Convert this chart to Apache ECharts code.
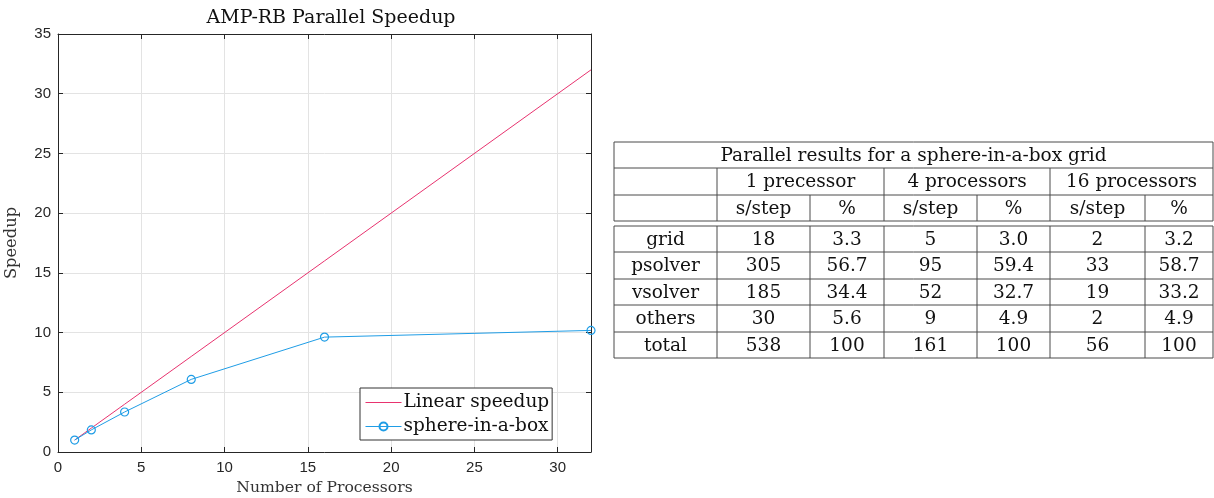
<!DOCTYPE html>
<html>
<head>
<meta charset="utf-8">
<script src="https://cdn.jsdelivr.net/npm/echarts@6/dist/echarts.min.js"></script>
<style>
  html, body { margin: 0; padding: 0; background: #fff; }
  #main { width: 1214px; height: 498px; }
</style>
</head>
<body>
<div id="main"></div>
<script>
// plot data
var procs = [1, 2, 4, 8, 16, 32];
var linear = [1, 2, 4, 8, 16, 32];
var sphere = [1, 1.85, 3.35, 6.08, 9.62, 10.18];

// table data
var tableTitle = 'Parallel results for a sphere-in-a-box grid';
var procHeads = ['1 precessor', '4 processors', '16 processors'];
var subHeads = ['s/step', '%'];
var rowNames = ['grid', 'psolver', 'vsolver', 'others', 'total'];
var secs1 = ['18', '305', '185', '30', '538'];
var pct1 = ['3.3', '56.7', '34.4', '5.6', '100'];
var secs4 = ['5', '95', '52', '9', '161'];
var pct4 = ['3.0', '59.4', '32.7', '4.9', '100'];
var secs16 = ['2', '33', '19', '2', '56'];
var pct16 = ['3.2', '58.7', '33.2', '4.9', '100'];

var serif = 'DejaVu Serif';
var sans = 'Liberation Sans';
var axisCol = '#262626';

// table layout
var colX = [614, 717, 810, 884, 977, 1050, 1145, 1213];
var headY = [142, 168, 195, 221];
var bodyY = [226, 252, 279, 305, 332, 358];
var lineCol = '#4a4a4a';

function hline(x1, x2, y) {
	return { type: 'line', shape: { x1: x1, y1: y, x2: x2, y2: y }, style: { stroke: lineCol, lineWidth: 1 } };
}
function vline(x, y1, y2) {
	return { type: 'line', shape: { x1: x, y1: y1, x2: x, y2: y2 }, style: { stroke: lineCol, lineWidth: 1 } };
}
function cell(txt, x, y) {
	return {
		type: 'text', x: x, y: y,
		style: { text: txt, font: '18.5px "' + serif + '"', fill: '#111', align: 'center', verticalAlign: 'middle' }
	};
}

function buildTable() {
	var g = [];
	var L = colX[0], R = colX[colX.length - 1];
	// horizontal rules
	headY.forEach(function (y) { g.push(hline(L, R, y)); });
	bodyY.forEach(function (y) { g.push(hline(L, R, y)); });
	// header verticals
	g.push(vline(L, headY[0], headY[3]));
	g.push(vline(R, headY[0], headY[3]));
	[1, 3, 5].forEach(function (c) { g.push(vline(colX[c], headY[1], headY[3])); });
	[2, 4, 6].forEach(function (c) { g.push(vline(colX[c], headY[2], headY[3])); });
	// body verticals
	colX.forEach(function (x) { g.push(vline(x, bodyY[0], bodyY[bodyY.length - 1])); });

	// header text
	g.push(cell(tableTitle, (L + R) / 2, (headY[0] + headY[1]) / 2 + 1));
	procHeads.forEach(function (h, i) {
		g.push(cell(h, (colX[1 + 2 * i] + colX[3 + 2 * i]) / 2, (headY[1] + headY[2]) / 2 + 1));
		subHeads.forEach(function (s, j) {
			var c = 1 + 2 * i + j;
			g.push(cell(s, (colX[c] + colX[c + 1]) / 2, (headY[2] + headY[3]) / 2 + 1));
		});
	});
	// body text
	var cols = [rowNames, secs1, pct1, secs4, pct4, secs16, pct16];
	cols.forEach(function (arr, c) {
		arr.forEach(function (v, r) {
			g.push(cell(v, (colX[c] + colX[c + 1]) / 2, (bodyY[r] + bodyY[r + 1]) / 2 + 1));
		});
	});
	return g;
}

var lineIcon = 'path://M0,0L0.01,0ZM0,4.5L38,4.5L38,5.5L0,5.5ZM0,10L0.01,10Z';

var myChart = echarts.init(document.getElementById('main'));
var option = {
	backgroundColor: '#fff',
	animation: false,
	title: {
		text: 'AMP-RB Parallel Speedup',
		left: 326, top: 4, textAlign: 'center',
		textStyle: { fontFamily: serif, fontWeight: 'normal', fontSize: 19, color: '#111' }
	},
	legend: {
		orient: 'vertical',
		left: 360, top: 388,
		backgroundColor: '#fff',
		borderColor: '#333', borderWidth: 1,
		padding: [5, 3, 4, 5],
		itemGap: 5,
		itemWidth: 36, itemHeight: 10,
		lineStyle: { width: 1 },
		textStyle: { fontFamily: serif, fontSize: 18.5, color: '#111', padding: [0, 0, 0, -3] },
		data: [{ name: 'Linear speedup', icon: lineIcon }, 'sphere-in-a-box']
	},
	grid: { left: 58, right: 623, top: 34, bottom: 46, show: false, outerBoundsMode: 'none', containLabel: false },
	xAxis: [{
		type: 'value', min: 0, max: 32, interval: 5,
		name: 'Number of Processors', nameLocation: 'middle', nameGap: 28,
		nameTextStyle: { fontFamily: serif, fontSize: 15.6, color: '#333' },
		axisLine: { lineStyle: { color: axisCol } },
		axisTick: { inside: true, length: 5, lineStyle: { color: axisCol } },
		axisLabel: { fontFamily: sans, fontSize: 15, color: axisCol, margin: 8, showMaxLabel: false },
		splitLine: { show: true, lineStyle: { color: '#e3e3e3' } }
	}, {
		type: 'value', min: 0, max: 32, interval: 5, position: 'top',
		axisLine: { show: true, onZero: false, lineStyle: { color: axisCol } },
		axisTick: { inside: true, length: 5, lineStyle: { color: axisCol } },
		axisLabel: { show: false }, splitLine: { show: false }
	}],
	yAxis: [{
		type: 'value', min: 0, max: 35, interval: 5,
		name: 'Speedup', nameLocation: 'middle', nameGap: 38,
		nameTextStyle: { fontFamily: serif, fontSize: 16.3, color: '#333' },
		axisLine: { show: true, lineStyle: { color: axisCol } },
		axisTick: { show: true, inside: true, length: 5, lineStyle: { color: axisCol } },
		axisLabel: { fontFamily: sans, fontSize: 15, color: axisCol, margin: 7 },
		splitLine: { show: true, lineStyle: { color: '#e3e3e3' } }
	}, {
		type: 'value', min: 0, max: 35, interval: 5, position: 'right',
		axisLine: { show: true, onZero: false, lineStyle: { color: axisCol } },
		axisTick: { show: true, inside: true, length: 5, lineStyle: { color: axisCol } },
		axisLabel: { show: false }, splitLine: { show: false }
	}],
	series: [{
		name: 'Linear speedup', type: 'line',
		data: procs.map(function (p, i) { return [p, linear[i]]; }),
		showSymbol: false, symbol: 'none',
		lineStyle: { color: '#e8336f', width: 1 },
		itemStyle: { color: '#e8336f' }
	}, {
		name: 'sphere-in-a-box', type: 'line',
		data: procs.map(function (p, i) { return [p, sphere[i]]; }),
		symbol: 'circle', symbolSize: 8,
		lineStyle: { color: '#1f9de6', width: 1 },
		itemStyle: { color: 'rgba(255,255,255,0)', borderColor: '#1f9de6', borderWidth: 1.2 }
	}],
	graphic: buildTable()
};
myChart.setOption(option);
</script>
</body>
</html>
